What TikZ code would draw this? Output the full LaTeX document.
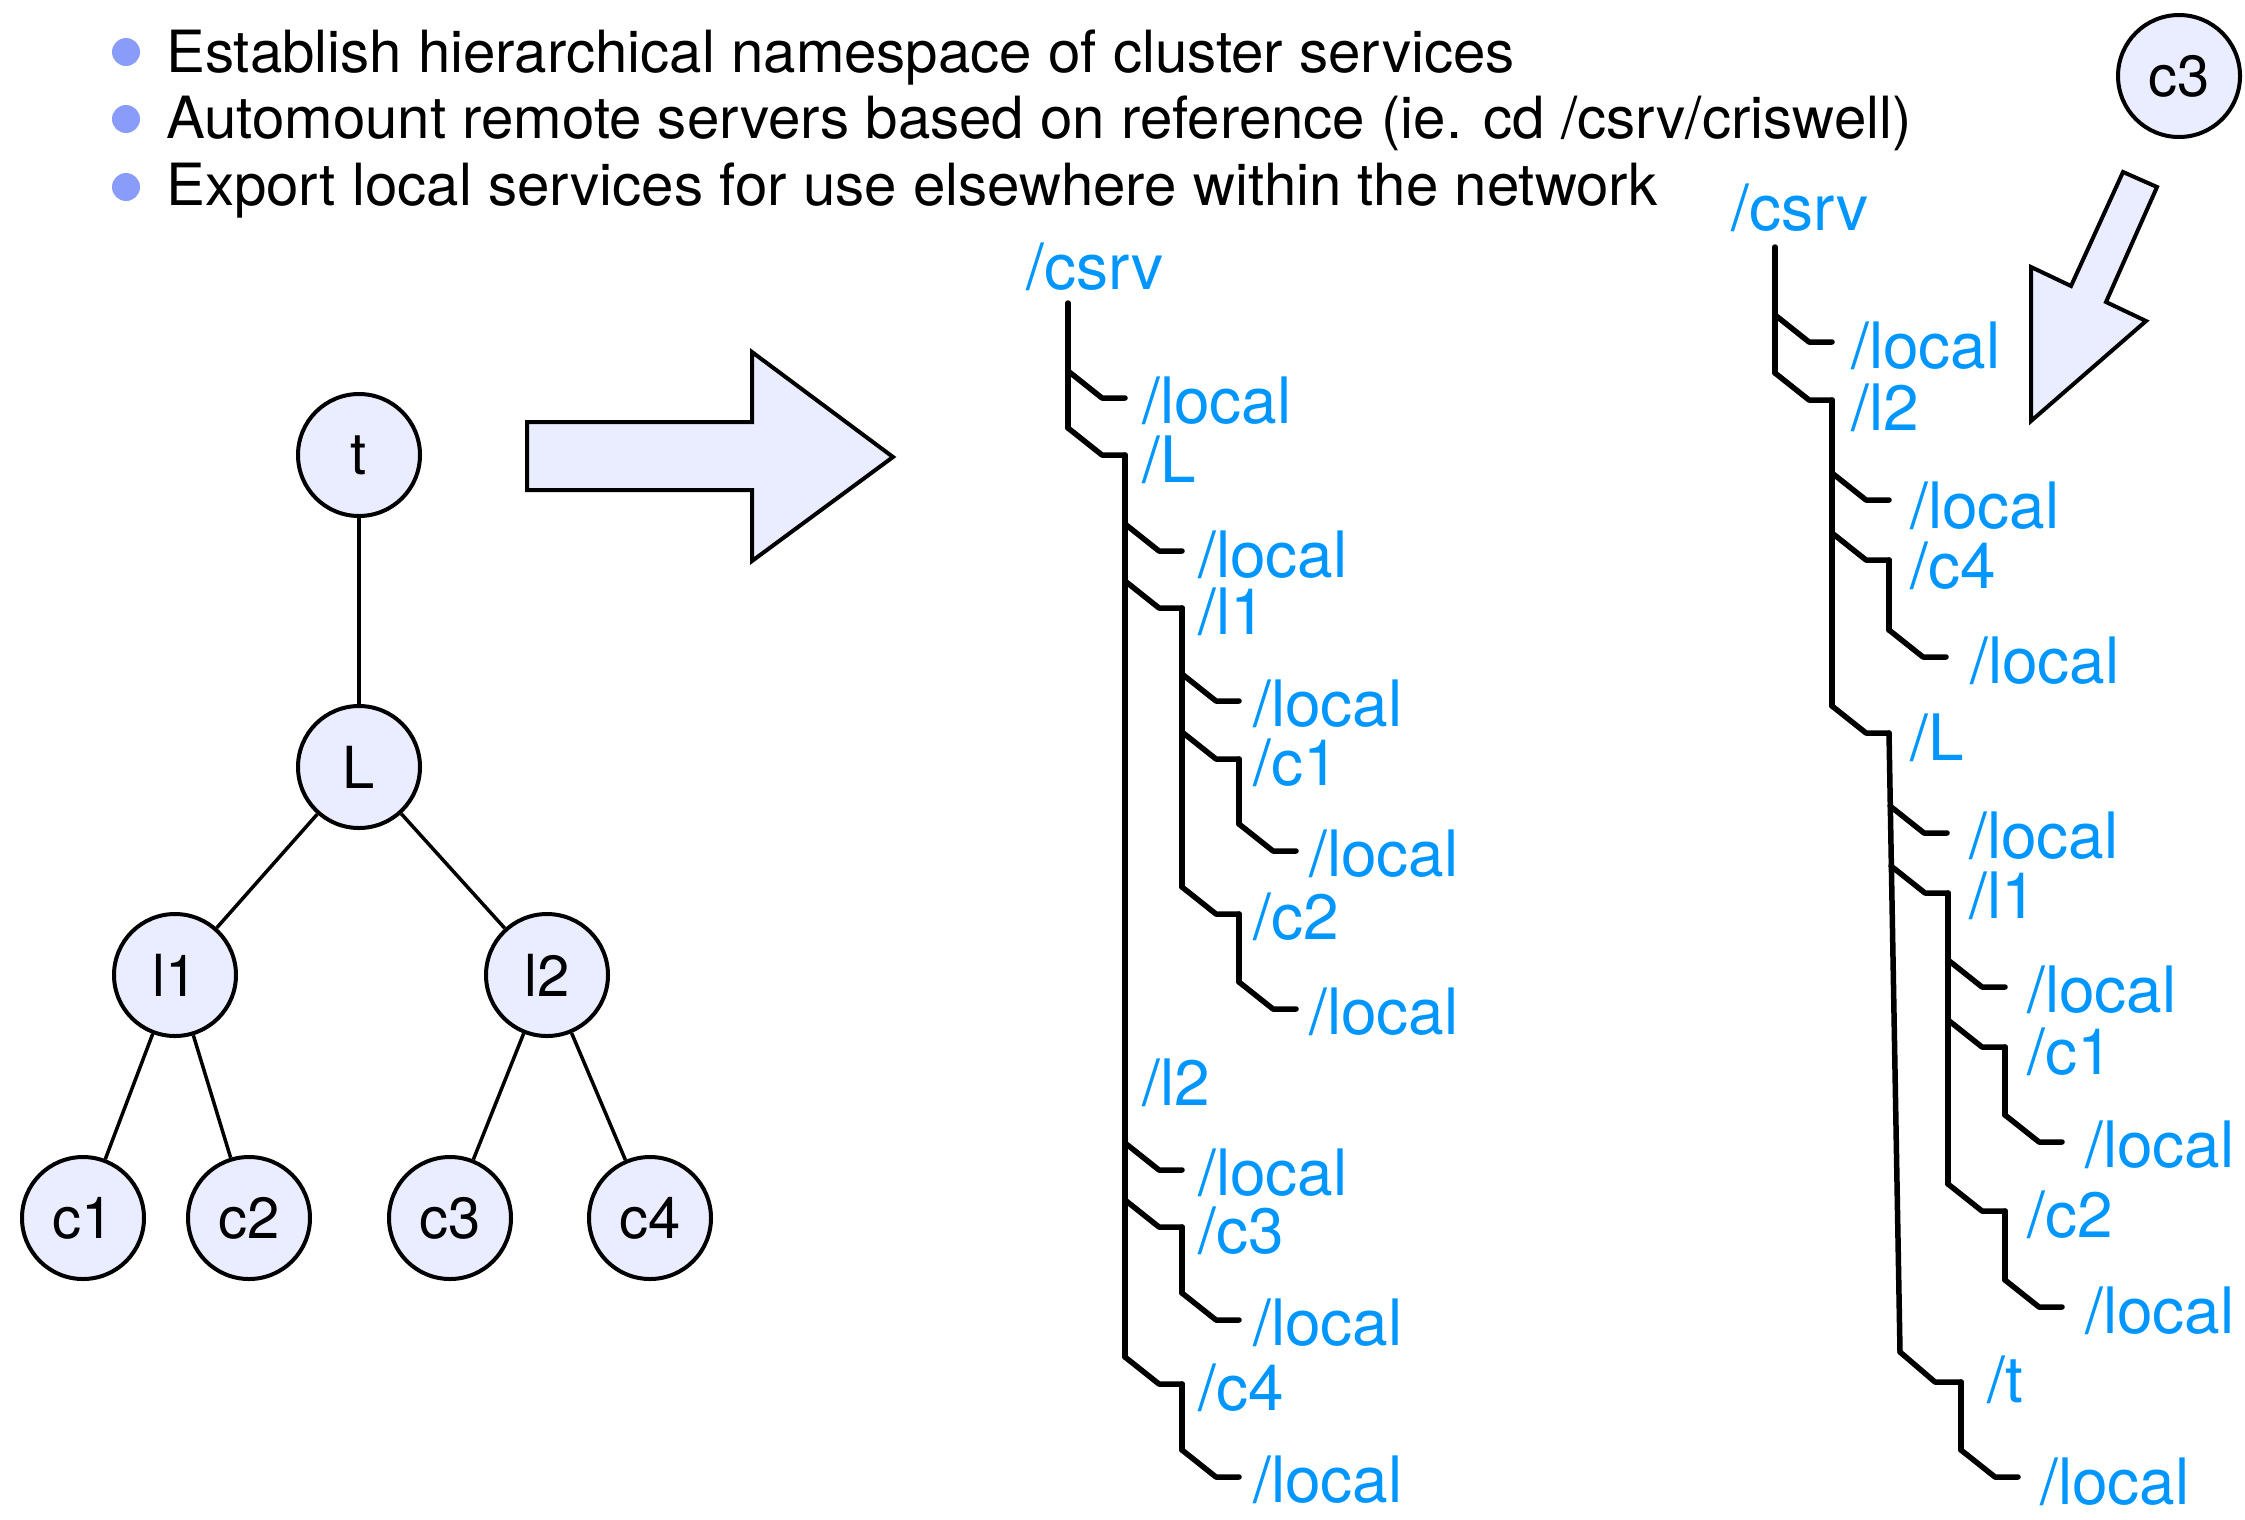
\documentclass[tikz,border=0pt]{standalone}
\usepackage{fontspec}
\setmainfont{TeX Gyre Heros}
\usetikzlibrary{calc}
\definecolor{nodefill}{RGB}{234,237,255}
\definecolor{bulletc}{RGB}{138,156,250}
\definecolor{pathblue}{RGB}{0,150,255}
% name, branch x, branch y, label x, label baseline y, text
\newcommand\branchto[6]{%
  \coordinate (#1-b) at (#2,#3);
  \coordinate (#1-c) at (#2+57,#3+27);
  \node[lbl] (#1) at (#4,#5) {#6};
  \draw[tl] (#1-b) -- ++(34,27) -- (#1-c);
}
\begin{document}
\begin{tikzpicture}[x=1pt,y=-1pt,
  circ/.style={circle,draw=black,line width=4pt,fill=nodefill,minimum size=122pt,inner sep=0pt,font=\fontsize{58}{70}\selectfont},
  edge/.style={line width=3.5pt},
  bul/.style={circle,fill=bulletc,minimum size=28pt,inner sep=0pt},
  btxt/.style={anchor=base west,inner sep=0pt,font=\fontsize{58.2}{70}\selectfont},
  lbl/.style={anchor=base west,inner sep=0pt,text=pathblue,font=\fontsize{64}{77}\selectfont},
  tl/.style={line width=5.5pt,line cap=round,line join=round},
  bigarrow/.style={draw=black,line width=4pt,fill=nodefill,line join=miter}
]
\useasboundingbox (0,0) rectangle (2245,1519);

% bullet list
\node[bul] (b1) at (126,52) {};
\node[bul] (b2) at (126,119) {};
\node[bul] (b3) at (126,187) {};
\node[btxt] (t1) at (166,72) {Establish hierarchical namespace of cluster services};
\node[btxt] (t2) at (166,138) {Automount remote servers based on reference (ie. cd /csrv/criswell)};
\node[btxt] (t3) at (166,205) {Export local services for use elsewhere within the network};

% left cluster tree
\node[circ] (gt) at (359,455) {t};
\node[circ] (gL) at (359,767) {L};
\node[circ] (gl1) at (175,975) {l1};
\node[circ] (gl2) at (547,975) {l2};
\node[circ] (gc1) at (83,1218) {c1};
\node[circ] (gc2) at (249,1218) {c2};
\node[circ] (gc3) at (450,1218) {c3};
\node[circ] (gc4) at (650,1218) {c4};
\draw[edge] (gt) -- (gL);
\draw[edge] (gL) -- (gl1);
\draw[edge] (gL) -- (gl2);
\draw[edge] (gl1) -- (gc1);
\draw[edge] (gl1) -- (gc2);
\draw[edge] (gl2) -- (gc3);
\draw[edge] (gl2) -- (gc4);

% big right arrow
\draw[bigarrow] (527,422) -- (752,422) -- (752,352) -- (893,457) -- (752,561) -- (752,490) -- (527,490) -- cycle;

% c3 and its arrow
\node[circ] (kc3) at (2179,76) {c3};
\draw[bigarrow] (2123,172) -- (2157,187) -- (2106,302) -- (2146,321) -- (2031,421) -- (2031,267) -- (2071,286) -- cycle;

% middle namespace tree
\node[lbl] (m-csrv) at (1026,289) {/csrv};
\coordinate (m-top) at (1068,303);
\branchto{m-local}{1068}{371}{1142}{423}{/local}
\branchto{m-L}{1068}{428}{1142}{482}{/L}
\branchto{m-L-local}{1125}{524}{1198}{577}{/local}
\branchto{m-l1}{1125}{581}{1198}{634}{/l1}
\branchto{m-l1-local}{1182}{674}{1253}{726}{/local}
\branchto{m-c1}{1182}{732}{1253}{785}{/c1}
\branchto{m-c1-local}{1239}{824}{1309}{876}{/local}
\branchto{m-c2}{1182}{887}{1253}{939}{/c2}
\branchto{m-c2-local}{1239}{982}{1309}{1034}{/local}
\node[lbl] (m-l2) at (1142,1105) {/l2};
\branchto{m-l2-local}{1125}{1143}{1198}{1195}{/local}
\branchto{m-c3}{1125}{1200}{1198}{1253}{/c3}
\branchto{m-c3-local}{1182}{1293}{1253}{1345}{/local}
\branchto{m-c4}{1125}{1357}{1198}{1410}{/c4}
\branchto{m-c4-local}{1182}{1450}{1253}{1502}{/local}
\draw[tl] (m-top) -- (m-L-b);
\draw[tl] (m-L-c) -- (m-c4-b);
\draw[tl] (m-l1-c) -- (m-c2-b);
\draw[tl] (m-c1-c) -- (m-c1-local-b);
\draw[tl] (m-c2-c) -- (m-c2-local-b);
\draw[tl] (m-c3-c) -- (m-c3-local-b);
\draw[tl] (m-c4-c) -- (m-c4-local-b);

% right namespace tree (seen from c3)
\node[lbl] (r-csrv) at (1731,230) {/csrv};
\coordinate (r-top) at (1775,247);
\branchto{r-local}{1775}{315}{1851}{368}{/local}
\branchto{r-l2}{1775}{373}{1851}{430}{/l2}
\branchto{r-l2-local}{1832}{473}{1910}{528}{/local}
\branchto{r-c4}{1832}{533}{1910}{588}{/c4}
\branchto{r-c4-local}{1889}{630}{1970}{683}{/local}
\branchto{r-L}{1832}{706}{1910}{760}{/L}
\branchto{r-L-local}{1890}{806}{1969}{858}{/local}
\branchto{r-l1}{1891}{866}{1969}{918}{/l1}
\branchto{r-l1-local}{1948}{960}{2027}{1012}{/local}
\branchto{r-c1}{1948}{1020}{2027}{1074}{/c1}
\branchto{r-c1-local}{2005}{1115}{2085}{1167}{/local}
\branchto{r-c2}{1948}{1184}{2027}{1237}{/c2}
\branchto{r-c2-local}{2005}{1280}{2085}{1333}{/local}
\coordinate (r-t-b) at (1900,1352);
\coordinate (r-t-c) at (1961,1382);
\node[lbl] (r-t) at (1987,1402) {/t};
\draw[tl] (r-t-b) -- ++(35,30) -- (r-t-c);
\branchto{r-t-local}{1961}{1450}{2040}{1504}{/local}
\draw[tl] (r-top) -- (r-l2-b);
\draw[tl] (r-l2-c) -- (r-L-b);
\draw[tl] (r-c4-c) -- (r-c4-local-b);
\draw[tl] (r-L-c) -- (r-t-b);
\draw[tl] (r-l1-c) -- (r-c2-b);
\draw[tl] (r-c1-c) -- (r-c1-local-b);
\draw[tl] (r-c2-c) -- (r-c2-local-b);
\draw[tl] (r-t-c) -- (r-t-local-b);
\end{tikzpicture}
\end{document}
